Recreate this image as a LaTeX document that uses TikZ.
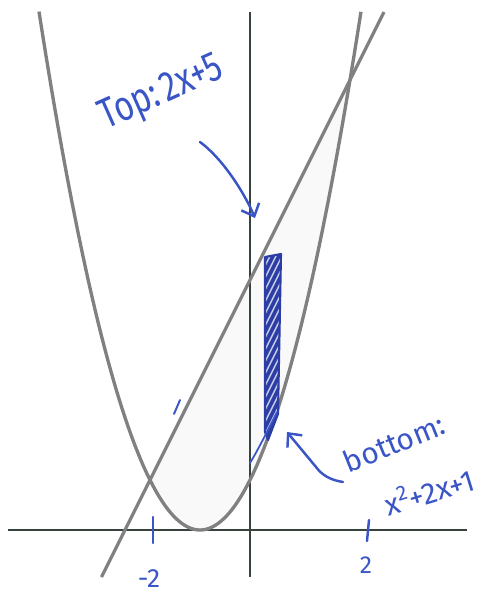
\documentclass[tikz,border=0pt]{standalone}
\usepackage{fontspec}
\newfontfamily\handfont{Fira Sans}
\usetikzlibrary{arrows.meta}
\definecolor{ink}{HTML}{3A55C6}
\definecolor{inkdark}{HTML}{2C3DA6}
\definecolor{curvecol}{RGB}{128,128,128}
\definecolor{axiscol}{HTML}{36443C}
\tikzset{
  curveline/.style={draw=curvecol, line width=1.9pt},
  axisline/.style={draw=axiscol, line width=1.6pt},
  pen/.style={draw=ink, line width=1.4pt, line cap=round, line join=round},
  hand/.style={text=ink, font=\handfont, inner sep=0pt},
  pointer/.style={pen, -{Straight Barb[length=6pt,width=11pt]}},
}
\begin{document}
\begin{tikzpicture}[x=0.02cm,y=-0.02cm]
\useasboundingbox (0,0) rectangle (486,593);
% faint shading between the curves
\fill[black!2.5] plot[domain=-2:2,samples=60] ({250+50*\x},{530-50*(\x+1)^2}) -- cycle;
% axes
\draw[axisline] (8,530) -- (467,530);
\draw[draw=axiscol, line width=1.1pt] (250,12) -- (250,577);
% curves
\draw[curveline] plot[domain=-4.22:2.22,samples=140] ({250+50*\x},{530-50*(\x+1)^2});
\draw[curveline] plot[domain=-2.97:2.68,samples=2] ({250+50*\x},{530-50*(2*\x+5)});
% strip
\coordinate (s1) at (265,257);
\coordinate (s2) at (281,254);
\coordinate (s3) at (278,414);
\coordinate (s4) at (268,440);
\coordinate (s5) at (265,432);
\fill[inkdark] (s1)--(s2)--(s3)--(s4)--(s5)--cycle;
\begin{scope}
  \clip (s1)--(s2)--(s3)--(s4)--(s5)--cycle;
  \foreach \y in {268,280,...,480}
    \draw[white, line width=0.8pt, opacity=0.75] (258,\y) -- (290,\y-64);
\end{scope}
\draw[draw=inkdark, line width=1.2pt, line join=round] (s1)--(s2)--(s3)--(s4)--(s5)--cycle;
\coordinate (b1) at (277,412);
\coordinate (b2) at (250,463);
\draw[pen, line width=1pt] (b1) .. controls (268,430) and (258,450) .. (b2);
% stray mark
\coordinate (m1) at (180,400);
\coordinate (m2) at (174,414);
\draw[pen, line width=1.1pt] (m1) -- (m2);
% ticks
\coordinate (t1a) at (153,517);
\coordinate (t1b) at (153,543);
\draw[pen] (t1a) -- (t1b);
\coordinate (t2a) at (369,520);
\coordinate (t2b) at (367,541);
\draw[pen] (t2a) -- (t2b);
\node[hand, font=\handfont\fontsize{15}{17}\selectfont] (lm2) at (149,579) {-2};
\node[hand, font=\handfont\fontsize{14}{16}\selectfont] (l2) at (366,565) {2};
% labels
\node[hand, rotate=24, font=\handfont\fontsize{24}{28}\selectfont] (top) at (162,94) {\scalebox{0.78}[1]{Top:\,2x+5}};
\node[hand, rotate=22, font=\handfont\fontsize{17}{20}\selectfont] (bot) at (394,443) {bottom:};
\node[hand, rotate=17, font=\handfont\fontsize{17}{20}\selectfont] (poly) at (429,491) {x\textsuperscript{2}+2x+1};
% pointers
\coordinate (p1) at (200,142);
\coordinate (p2) at (255,218);
\draw[pointer] (p1) .. controls (222,158) and (244,192) .. (p2);
\coordinate (q1) at (343,482);
\coordinate (q2) at (316,467);
\coordinate (q3) at (287,432);
\draw[pointer] (q1) .. controls (330,480) and (322,475) .. (q2) -- (q3);
\end{tikzpicture}
\end{document}
